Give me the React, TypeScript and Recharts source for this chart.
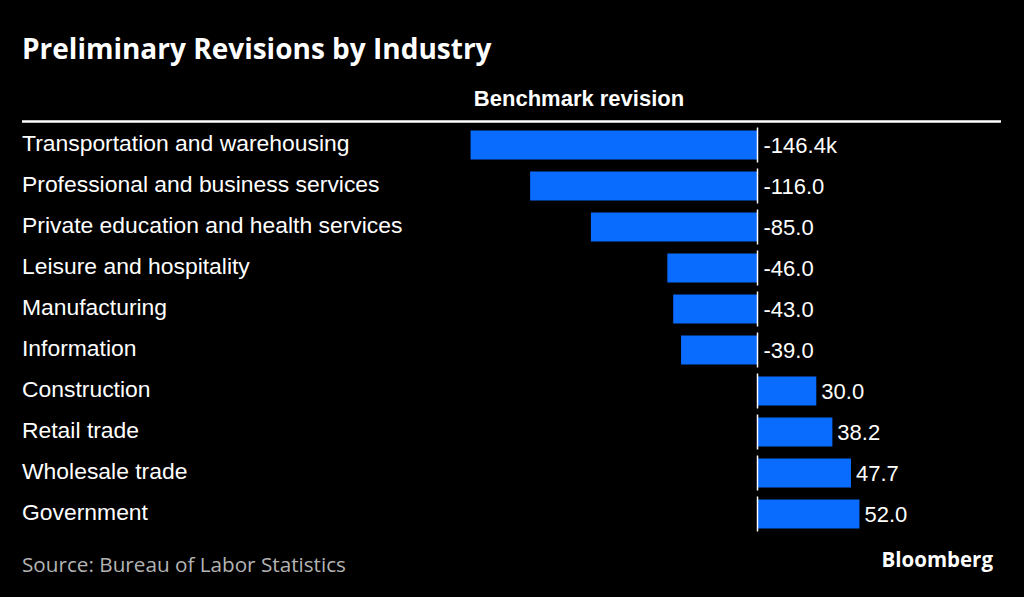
import React from 'react';
import { Bar, BarChart, LabelList, XAxis, YAxis } from 'recharts';

const industries = [
    'Transportation and warehousing',
    'Professional and business services',
    'Private education and health services',
    'Leisure and hospitality',
    'Manufacturing',
    'Information',
    'Construction',
    'Retail trade',
    'Wholesale trade',
    'Government',
];
const revisions = [-146.4, -116.0, -85.0, -46.0, -43.0, -39.0, 30.0, 38.2, 47.7, 52.0];
const xDomain = [-150, 60];

const data = industries.map((name, i) => ({ name, value: revisions[i] }));

const BLUE = '#0a6cff';
const SANS = '"Liberation Sans", Arial, sans-serif';
const HUMANIST = '"Open Sans", "Noto Sans", sans-serif';

const zeroOf = (x: number, width: number, value: number) => {
    if (value < 0 && width > 0) return x + width;
    return x;
};

const BarShape = (props: any) => {
    const { x, y, width, height, fill, payload } = props;
    const zero = zeroOf(x, width, payload.value);
    const left = Math.min(x, x + width);
    const w = Math.abs(width);
    return (
        <g>
            <rect x={left} y={y} width={w} height={height} fill={fill} />
            <line x1={zero} x2={zero} y1={y - 3} y2={y + height + 3} stroke="#fff" strokeWidth={1.5} />
        </g>
    );
};

const ValueLabel = (props: any) => {
    const { x, y, width, height, value, index } = props;
    const zero = zeroOf(x, width, value);
    const tx = value < 0 ? zero + 6 : Math.max(x, x + width) + 5;
    const text = value.toFixed(1) + (index === 0 ? 'k' : '');
    return (
        <text x={tx} y={y + height / 2 + 8} fill="#fff" fontSize={22} fontFamily={SANS}>
            {text}
        </text>
    );
};

const CategoryTick = (props: any) => {
    const { y, payload } = props;
    return (
        <text x={22} y={y + 5.5} fill="#fff" fontSize={22.9} fontFamily={SANS}>
            {payload.value}
        </text>
    );
};

const App: React.FC = () => {
    return (
        <div style={{ position: 'absolute', left: 0, top: 0, width: 1024, height: 597, background: '#000' }}>
            <BarChart
                width={1024}
                height={597}
                data={data}
                layout="vertical"
                margin={{ top: 124.5, right: 148.9, bottom: 62.5, left: 0 }}
            >
                <XAxis type="number" domain={xDomain} hide allowDataOverflow />
                <YAxis
                    type="category"
                    dataKey="name"
                    width={463.5}
                    axisLine={false}
                    tickLine={false}
                    tick={<CategoryTick />}
                    interval={0}
                />
                <Bar dataKey="value" fill={BLUE} barSize={29} shape={<BarShape />} isAnimationActive={false}>
                    <LabelList dataKey="value" content={<ValueLabel />} />
                </Bar>
            </BarChart>
            <svg width={1024} height={597} style={{ position: 'absolute', left: 0, top: 0, pointerEvents: 'none' }}>
                <text x={22} y={59} fill="#fff" fontSize={28} fontWeight={700} fontFamily={HUMANIST}>
                    Preliminary Revisions by Industry
                </text>
                <text x={579} y={106} fill="#fff" fontSize={22} fontWeight={700} fontFamily={SANS} textAnchor="middle">
                    Benchmark revision
                </text>
                <line x1={22} x2={1001} y1={121.5} y2={121.5} stroke="#fff" strokeWidth={2.5} />
                <text x={22} y={572} fill="#b4b4b4" fontSize={20.7} fontFamily={HUMANIST}>
                    Source: Bureau of Labor Statistics
                </text>
                <text x={993} y={567} fill="#fff" fontSize={20.5} fontWeight={700} fontFamily={HUMANIST} textAnchor="end">
                    Bloomberg
                </text>
            </svg>
        </div>
    );
};

export default App;
